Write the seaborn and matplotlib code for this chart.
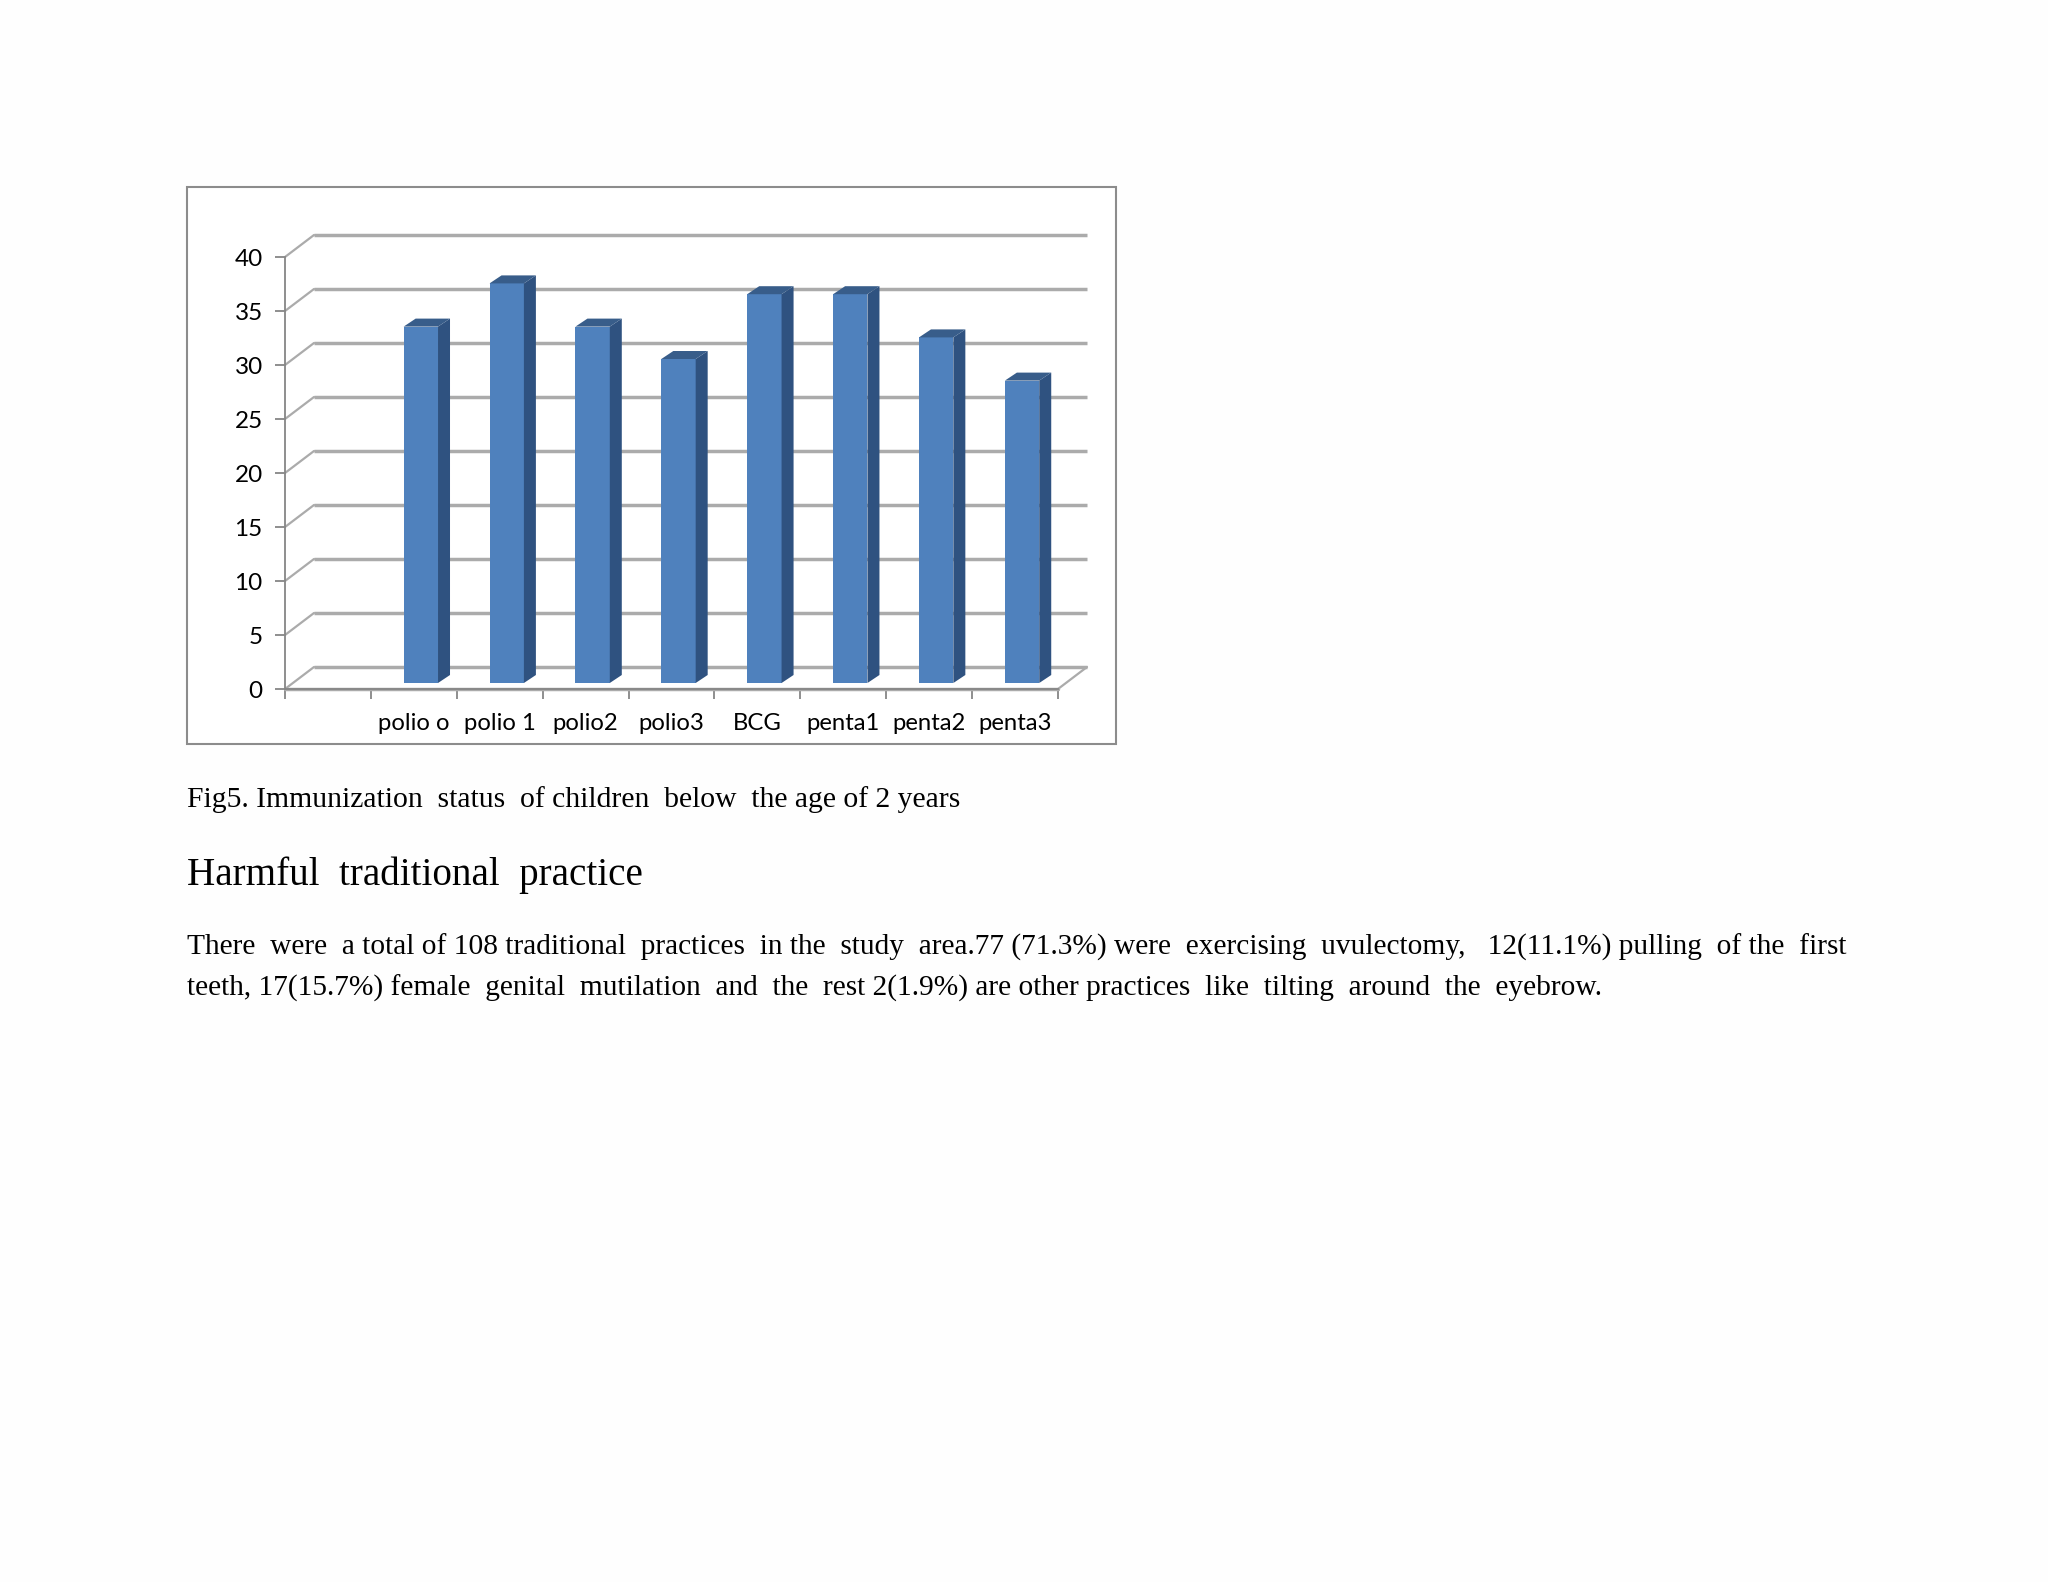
import numpy as np
import matplotlib
matplotlib.use('Agg')
import matplotlib.pyplot as plt
from matplotlib.patches import Polygon, Rectangle
import pandas as pd
import seaborn as sns

sns.set_style('white')

# =========================
#  DATA
# =========================

categories = ['polio o', 'polio 1', 'polio2', 'polio3', 'BCG', 'penta1', 'penta2', 'penta3']
counts = [33, 37, 33, 30, 36, 36, 32, 28]
y_ticks = [0, 5, 10, 15, 20, 25, 30, 35, 40]

caption = 'Fig5. Immunization  status  of children  below  the age of 2 years'
heading = 'Harmful  traditional  practice'
body_1 = ('There  were  a total of 108 traditional  practices  in the  study  area.77 (71.3%) were  exercising  '
          'uvulectomy,   12(11.1%) pulling  of the  first')
body_2 = ('teeth, 17(15.7%) female  genital  mutilation  and  the  rest 2(1.9%) are other practices  like  tilting  '
          'around  the  eyebrow.')

W, H = 2048, 1582
GRID = '#ababab'
AXIS = '#868686'
FRONT = '#4f81bd'
SIDE = '#2f5280'
TOP = '#385d8a'
CHART_FONT = 'Lato'
TEXT_FONT = 'Liberation Serif'

# =========================
#  FIGURE
# =========================

fig = plt.figure(figsize=(W / 100, H / 100), dpi=100, facecolor='#fefefe')

fig.add_artist(Rectangle((187 / W, 1 - 744 / H), 929 / W, 557 / H, transform=fig.transFigure,
                         facecolor='white', edgecolor='#8c8c8c', linewidth=1.5, zorder=-1))

left, right, bottom, top = 285, 1058, 689, 257
ax = fig.add_axes([left / W, 1 - bottom / H, (right - left) / W, (bottom - top) / H])
ax.patch.set_alpha(0)

df = pd.DataFrame({'vaccine': categories, 'count': counts})
sns.barplot(data=df, x='vaccine', y='count', color=FRONT, saturation=1, width=0.4, linewidth=0, ax=ax, zorder=3)

ax.set_xlim(-1.5, 7.5)
ax.set_ylim(0, 40)

# pixel offsets of the fake 3D look, converted to data units
px_x = 9 / (right - left)
px_y = 40 / (bottom - top)
wall_dx, wall_dy = 29 * px_x, 22 * px_y
bar_dx, bar_dy = 7 * px_x, 6 * px_y
side_dx, side_dy = 12 * px_x, 8 * px_y

# back wall gridlines and their diagonals
x0, x1 = ax.get_xlim()
for tick in y_ticks:
    ax.plot([x0 + wall_dx, x1 + wall_dx], [tick + wall_dy, tick + wall_dy], color=GRID, lw=2.5,
            clip_on=False, zorder=1, solid_capstyle='butt')
    ax.plot([x0, x0 + wall_dx], [tick, tick + wall_dy], color=GRID, lw=1.6, clip_on=False, zorder=1)

# floor
ax.plot([x0, x1], [0, 0], color=GRID, lw=2.5, clip_on=False, zorder=1)
ax.plot([x1, x1 + wall_dx], [0, wall_dy], color=GRID, lw=1.6, clip_on=False, zorder=1)

# extruded bars
for patch in list(ax.patches):
    patch.set_x(patch.get_x() + bar_dx)
    patch.set_y(bar_dy)
    xa = patch.get_x()
    xb = xa + patch.get_width()
    ya = patch.get_y()
    yb = ya + patch.get_height()
    ax.add_patch(Polygon([(xb, ya), (xb + side_dx, ya + side_dy), (xb + side_dx, yb + side_dy), (xb, yb)],
                         facecolor=SIDE, edgecolor='none', clip_on=False, zorder=3))
    ax.add_patch(Polygon([(xa, yb), (xb, yb), (xb + side_dx, yb + side_dy), (xa + side_dx, yb + side_dy)],
                         facecolor=TOP, edgecolor='none', clip_on=False, zorder=3))

for name in ['top', 'right']:
    ax.spines[name].set_visible(False)
for name in ['left', 'bottom']:
    ax.spines[name].set_color(AXIS)
    ax.spines[name].set_linewidth(1.3)

ax.set_xlabel('')
ax.set_ylabel('')
ax.set_yticks(y_ticks)
ax.set_xticks(np.arange(-1.5, 8, 1))
ax.set_xticklabels([])
ax.set_xticks(np.arange(len(categories)), minor=True)
ax.set_xticklabels(categories, minor=True, fontfamily=CHART_FONT, fontsize=17.2, color='black')
ax.tick_params(axis='x', which='major', bottom=True, length=7, width=1.3, color=AXIS)
ax.tick_params(axis='x', which='minor', bottom=False, pad=15)
ax.tick_params(axis='y', left=True, length=7, width=1.3, color=AXIS, pad=9, labelsize=17.5)
for label in ax.get_yticklabels():
    label.set_fontfamily(CHART_FONT)
    label.set_color('black')

# =========================
#  PAGE TEXT
# =========================

fig.text(187 / W, 1 - 807 / H, caption, fontfamily=TEXT_FONT, fontsize=21.3, color='black', va='baseline')
fig.text(187 / W, 1 - 885 / H, heading, fontfamily=TEXT_FONT, fontsize=28.2, color='black', va='baseline')
fig.text(187 / W, 1 - 955 / H, body_1, fontfamily=TEXT_FONT, fontsize=21.2, color='black', va='baseline')
fig.text(187 / W, 1 - 996 / H, body_2, fontfamily=TEXT_FONT, fontsize=21.2, color='black', va='baseline')

fig.savefig('out.png', dpi=100, facecolor=fig.get_facecolor())
plt.close(fig)
